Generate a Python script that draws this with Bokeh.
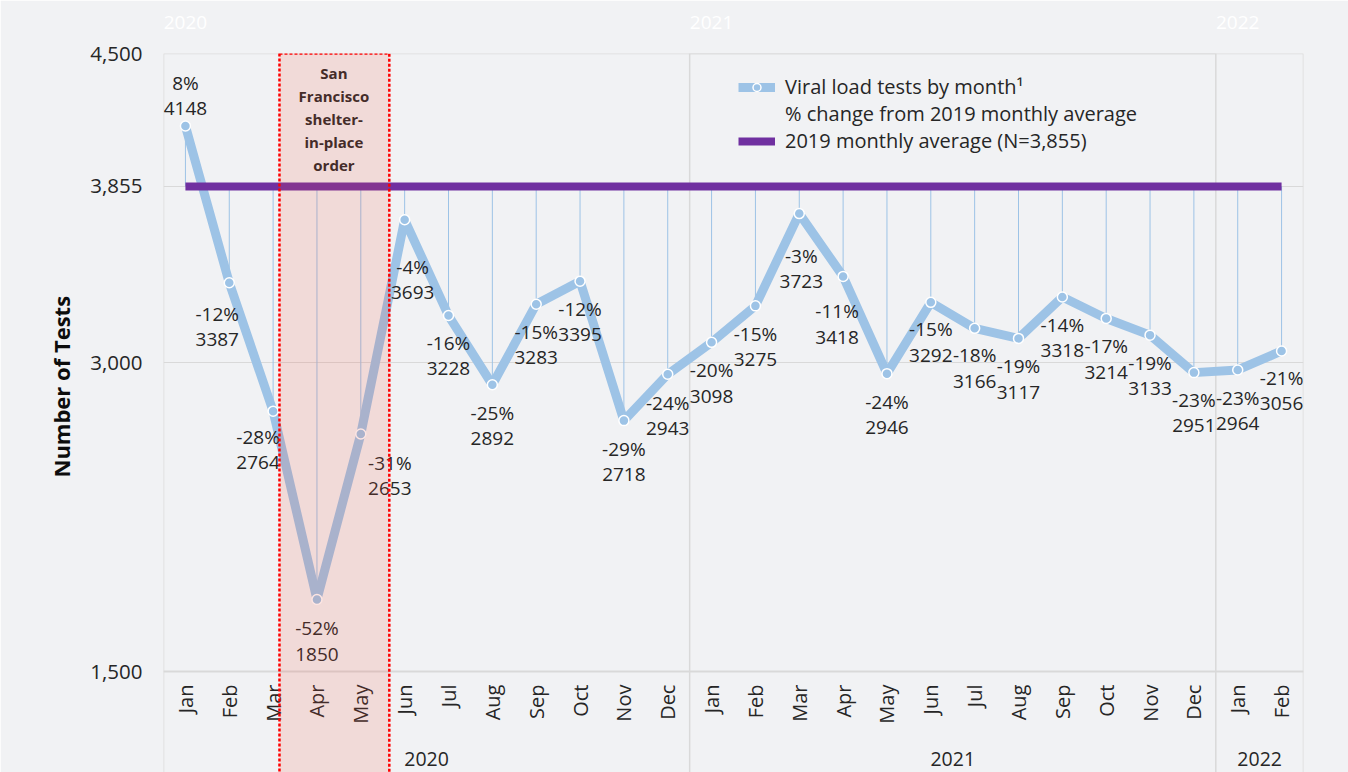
import math
from bokeh.plotting import figure
from bokeh.models import (Range1d, FixedTicker, NumeralTickFormatter, LinearAxis,
                          ColumnDataSource, BoxAnnotation, Legend, LegendItem, Span, Title)
from bokeh.core.properties import value
from bokeh.embed import file_html
from bokeh.resources import INLINE

# ---------------- data ----------------
years = ["2020"] * 12 + ["2021"] * 12 + ["2022"] * 2
months = ["Jan", "Feb", "Mar", "Apr", "May", "Jun", "Jul", "Aug", "Sep", "Oct", "Nov", "Dec"] * 2 + ["Jan", "Feb"]
tests = [4148, 3387, 2764, 1850, 2653, 3693, 3228, 2892, 3283, 3395, 2718, 2943,
         3098, 3275, 3723, 3418, 2946, 3292, 3166, 3117, 3318, 3214, 3133, 2951,
         2964, 3056]
pct_change = [8, -12, -28, -52, -31, -4, -16, -25, -15, -12, -29, -24,
              -20, -15, -3, -11, -24, -15, -18, -19, -14, -17, -19, -23,
              -23, -21]
avg_2019 = 3855
y_ticks = [1500, 3000, 3855, 4500]
year_labels = ["2020", "2021", "2022"]
shelter_label = "San\nFrancisco\nshelter-\nin-place\norder"

# label nudges in screen pixels (layout only)
label_dx = [0, -12, -15, 0, 29, 8, 0, 0, 0, 0, 0, 0,
            0, 0, 2, -6, 0, 0, 0, 0, 0, 0, 0, 0, 0, 0]
label_center_dy = [-43, 31, 26, 29, 29, 47, 27, 28, 28, 28, 28, 29,
                   28, 28, 42, 35, 28, 27, 27, 28, 28, 28, 28, 27, 28, 27]

FONT = "Open Sans"
TXT = "#262626"
BG = "#F1F2F4"
BLUE = "#9DC3E6"
PURPLE = "#7030A0"
GRID = "#D9D9D9"

n = len(months)
x_pos = [i + 0.5 for i in range(n)]          # one slot per month
y_bottom = 1010          # frame runs below the 1,500 line to hold the category labels
axis_base = y_ticks[0]

src = ColumnDataSource(dict(
    x=x_pos,
    y=tests,
    avg=[avg_2019] * n,
    base=[axis_base] * n,
    month=months,
    label=[f"{c}%\n{v}" for c, v in zip(pct_change, tests)],
    dx=label_dx,
    dy=[c - 13 for c in label_center_dy],
))

year_first = [years.index(yr) for yr in year_labels]
year_last = [n - years[::-1].index(yr) for yr in year_labels]
group_centers = [(a + b) / 2 for a, b in zip(year_first, year_last)]
year_starts = [x_pos[i] for i in year_first]

p = figure(width=1348, height=772,
           x_range=Range1d(0, n), y_range=Range1d(y_bottom, 4500),
           x_axis_location=None,
           output_backend="svg", toolbar_location=None,
           min_border_left=163, min_border_right=45, min_border_top=53, min_border_bottom=0,
           background_fill_color=BG, border_fill_color=BG, outline_line_color=None)

# ---------------- y axis ----------------
ticker = FixedTicker(ticks=y_ticks)
p.yaxis.ticker = ticker
p.ygrid.ticker = ticker
p.yaxis.formatter = NumeralTickFormatter(format="0,0")
p.yaxis.axis_line_color = None
p.yaxis.major_tick_line_color = None
p.yaxis.minor_tick_line_color = None
p.yaxis.major_tick_out = 0
p.yaxis.major_label_standoff = 21
p.yaxis.major_label_text_font = FONT
p.yaxis.major_label_text_font_size = "20.5px"
p.yaxis.major_label_text_color = TXT
p.ygrid.grid_line_color = GRID
p.xgrid.grid_line_color = None

p.add_layout(Title(text="Number of Tests", align="left", offset=295, standoff=24,
                   text_font=FONT, text_font_style="bold", text_font_size="22px",
                   text_color="#0D0D0D"), "left")

# faint white year labels above the frame
top_axis = LinearAxis(ticker=FixedTicker(ticks=year_starts),
                      major_label_overrides={t: yr for t, yr in zip(year_starts, year_labels)},
                      axis_line_color=None, major_tick_line_color=None,
                      minor_tick_line_color=None, major_tick_out=0,
                      major_label_standoff=25, major_label_text_font=FONT,
                      major_label_text_font_size="19px", major_label_text_color="white")
p.add_layout(top_axis, "above")

# frame border, year separators, category-axis line
p.add_layout(BoxAnnotation(left=0, right=n, top=4500, bottom=900,
                           fill_alpha=0, line_color=GRID, line_alpha=1, line_width=1.5,
                           level="underlay"))
p.add_layout(BoxAnnotation(left=year_first[1], right=year_first[2], top=4500, bottom=900,
                           fill_alpha=0, line_color=GRID, line_alpha=1, line_width=1.5,
                           level="underlay"))
p.add_layout(Span(location=axis_base, dimension="width", line_color=GRID, line_width=2,
                  level="underlay"))

# ---------------- data marks ----------------
p.segment(x0="x", y0="y", x1="x", y1="avg", source=src, line_color=BLUE, line_width=1)
line_r = p.line(x="x", y="y", source=src, line_color=BLUE, line_width=9, line_join="round")
pts_r = p.scatter(x="x", y="y", source=src, size=10, fill_color=BLUE,
                  line_color="white", line_width=1.5)
avg_r = p.line(x=[x_pos[0], x_pos[-1]], y=[avg_2019, avg_2019],
               line_color=PURPLE, line_width=8)
blank_r = p.line(x=[x_pos[0]], y=[avg_2019], line_alpha=0)

p.text(x="x", y="y", text="label", x_offset="dx", y_offset="dy", source=src,
       text_align="center", text_baseline="top", text_font=value(FONT),
       text_font_size="19px", text_color=TXT, text_line_height=0.97)

# category labels (months, rotated) and year groups
p.text(x="x", y="base", text="month", source=src, angle=math.pi / 2, y_offset=13,
       text_align="right", text_baseline="middle", text_font=value(FONT),
       text_font_size="20px", text_color=TXT)
p.text(x=group_centers, y=[axis_base] * len(year_labels), text=year_labels, y_offset=87,
       text_align="center", text_baseline="middle", text_font=value(FONT),
       text_font_size="19.5px", text_color=TXT)

# shelter-in-place shading
p.add_layout(BoxAnnotation(left=2.645, right=5.15, top=4500, bottom=900,
                           fill_color="#F0503C", fill_alpha=0.15,
                           line_color="#FF0000", line_alpha=1, line_width=2.5, line_dash="3 2",
                           level="annotation"))
p.text(x=[x_pos[months.index("Apr")]], y=[4500], text=[shelter_label], x_offset=17, y_offset=9,
       text_align="center", text_baseline="top", text_font=value(FONT),
       text_font_style="bold", text_font_size="15px", text_color=TXT,
       text_line_height=1.15)

# ---------------- legend ----------------
legend = Legend(items=[
    LegendItem(label="Viral load tests by month\u00b9", renderers=[line_r, pts_r]),
    LegendItem(label="% change from 2019 monthly average", renderers=[blank_r]),
    LegendItem(label="2019 monthly average (N=3,855)", renderers=[avg_r]),
], location=(575, 618), label_text_font=FONT, label_text_font_size="20px",
    label_text_color=TXT, glyph_width=37, glyph_height=20, label_height=20,
    label_standoff=10, spacing=0, padding=0, margin=0,
    border_line_color=None, background_fill_alpha=0)
p.add_layout(legend)

open("out.html", "w").write(file_html(p, INLINE))
